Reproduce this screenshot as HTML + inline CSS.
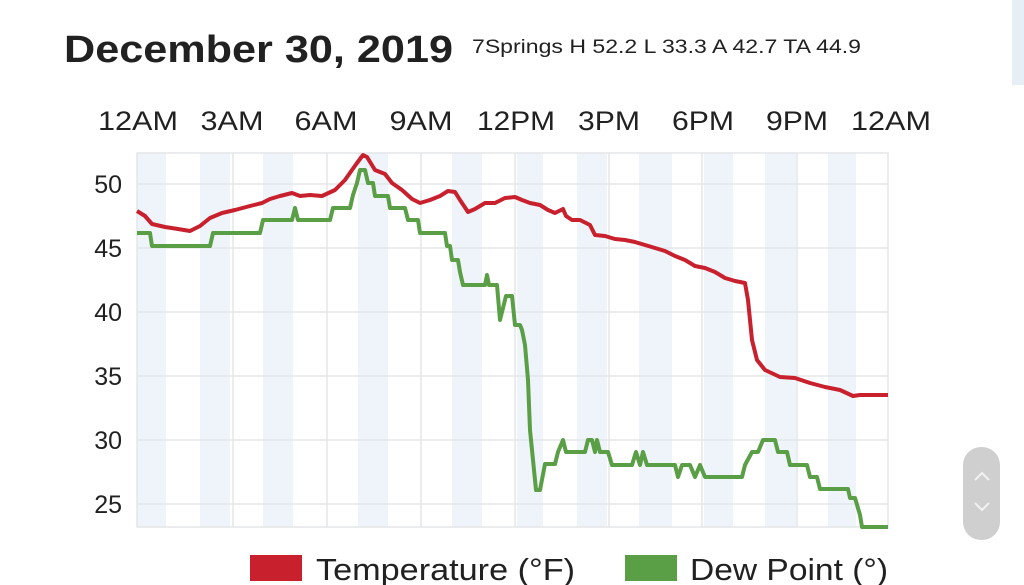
<!DOCTYPE html>
<html><head><meta charset="utf-8"><style>
html,body{margin:0;padding:0;background:#fff;width:1024px;height:585px;overflow:hidden}
svg{display:block;font-family:"Liberation Sans",sans-serif}
</style></head><body>
<svg width="1024" height="585" viewBox="0 0 1024 585">
<text x="64" y="62" font-size="38" font-weight="bold" fill="#212121" textLength="389" lengthAdjust="spacingAndGlyphs">December 30, 2019</text>
<text x="472" y="53" font-size="19" fill="#212121" textLength="389" lengthAdjust="spacingAndGlyphs">7Springs H 52.2 L 33.3 A 42.7 TA 44.9</text>
<g font-size="27" fill="#212121" text-anchor="middle">
<text x="138" y="130" textLength="80" lengthAdjust="spacingAndGlyphs">12AM</text><text x="232" y="130" textLength="63" lengthAdjust="spacingAndGlyphs">3AM</text><text x="326" y="130" textLength="63" lengthAdjust="spacingAndGlyphs">6AM</text><text x="421" y="130" textLength="63" lengthAdjust="spacingAndGlyphs">9AM</text><text x="516" y="130" textLength="78" lengthAdjust="spacingAndGlyphs">12PM</text><text x="609" y="130" textLength="62" lengthAdjust="spacingAndGlyphs">3PM</text><text x="703" y="130" textLength="62" lengthAdjust="spacingAndGlyphs">6PM</text><text x="797" y="130" textLength="62" lengthAdjust="spacingAndGlyphs">9PM</text><text x="891" y="130" textLength="80" lengthAdjust="spacingAndGlyphs">12AM</text>
</g>
<g font-size="25" fill="#212121" text-anchor="end">
<text x="122" y="193">50</text><text x="122" y="257">45</text><text x="122" y="321">40</text><text x="122" y="385">35</text><text x="122" y="449">30</text><text x="122" y="513">25</text>
</g>
<g fill="#eef4fa">
<rect x="137" y="153" width="29" height="374"/><rect x="200" y="153" width="30" height="374"/><rect x="263" y="153" width="30" height="374"/><rect x="358" y="153" width="30" height="374"/><rect x="452" y="153" width="30" height="374"/><rect x="517" y="153" width="26" height="374"/><rect x="577" y="153" width="30" height="374"/><rect x="639" y="153" width="33" height="374"/><rect x="704" y="153" width="29" height="374"/><rect x="765" y="153" width="31" height="374"/><rect x="828" y="153" width="28" height="374"/>
</g>
<g stroke="#e3e6e9" stroke-width="1.5" fill="none">
<rect x="137" y="153" width="751" height="374"/>
<path d="M137 184H888M137 248H888M137 312H888M137 376H888M137 440H888M137 504H888M233 153V527M327 153V527M421 153V527M515 153V527M609 153V527M702 153V527M797 153V527"/>
</g>
<polyline fill="none" stroke="#5a9e46" stroke-width="4" stroke-linejoin="round" points="137,233 150,233 152,246 210,246 213,233 260,233 263,220 292,220 295,208 298,220 330,220 333,208 350,208 353,195 357,183 360,170 365,170 368,183 373,183 375,196 388,196 390,208 405,208 408,220 418,220 420,233 445,233 447,246 450,246 452,260 458,260 460,272 463,285 485,285 487,275 489,285 497,285 500,320 503,308 506,296 512,296 515,325 520,325 522,330 525,345 528,380 530,430 536,490 540,490 545,464 555,464 558,452 563,440 566,452 585,452 588,440 592,440 595,452 597,440 600,452 608,452 612,465 632,465 636,452 640,465 643,452 647,465 675,465 678,477 682,465 690,465 695,477 700,465 705,477 742,477 745,465 752,452 758,452 763,440 775,440 778,452 787,452 790,465 807,465 810,477 817,477 820,489 848,489 850,498 855,498 860,515 862,527 888,527"/>
<polyline fill="none" stroke="#c8202c" stroke-width="4" stroke-linejoin="round" points="137,211 145,216 152,224 165,227 178,229 190,231 200,226 210,218 222,213 235,210 250,206 262,203 270,199 280,196 292,193 300,196 310,195 322,196 335,190 345,180 352,170 357,163 363,155 367,157 375,170 385,174 392,183 402,190 412,199 420,203 430,200 440,196 448,191 455,192 460,200 468,212 475,209 485,203 495,203 505,198 515,197 522,200 530,203 540,205 548,210 555,213 563,209 566,216 572,220 580,220 590,225 595,235 605,236 615,239 625,240 635,242 645,245 655,248 665,251 675,256 685,260 695,266 705,268 715,272 725,278 735,281 745,283 748,300 752,340 757,360 765,370 780,377 795,378 810,383 825,387 840,390 853,396 860,395 888,395"/>
<rect x="250" y="555" width="52" height="26" fill="#c8202c"/>
<text x="316" y="580" font-size="31" fill="#212121" textLength="259" lengthAdjust="spacingAndGlyphs">Temperature (°F)</text>
<rect x="625" y="555" width="52" height="26" fill="#5a9e46"/>
<text x="690" y="580" font-size="31" fill="#212121" textLength="198" lengthAdjust="spacingAndGlyphs">Dew Point (°)</text>
<rect x="963" y="447" width="37" height="93" rx="18" fill="#cfcfcf"/>
<path d="M975 480l7-7 7 7M975 503l7 7 7-7" stroke="#f2f2f2" stroke-width="2" fill="none"/>
<rect x="1012" y="0" width="12" height="85" fill="#e6eef6"/>
</svg>
</body></html>
